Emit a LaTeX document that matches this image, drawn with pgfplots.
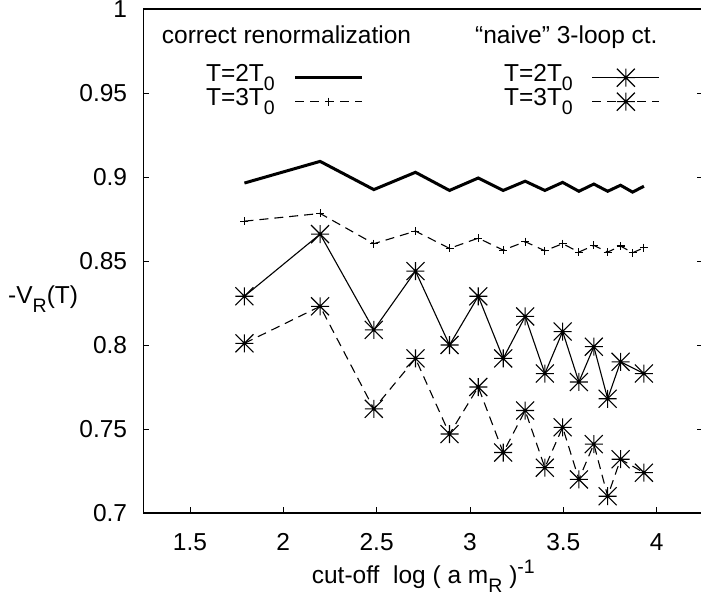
\documentclass[border=0pt]{standalone}
\usepackage{fontspec}
\setmainfont{Liberation Sans}
\usepackage{pgfplots}
\pgfplotsset{compat=1.18}
\usetikzlibrary{calc}
\newcommand{\sub}[1]{\raisebox{-0.36em}{\fontsize{19.5}{19.5}\selectfont #1}}
\newcommand{\super}[1]{\raisebox{0.42em}{\fontsize{19.5}{19.5}\selectfont #1}}
\pgfdeclareplotmark{gstar}{%
  \pgfpathmoveto{\pgfqpoint{-\pgfplotmarksize}{0pt}}\pgfpathlineto{\pgfqpoint{\pgfplotmarksize}{0pt}}%
  \pgfpathmoveto{\pgfqpoint{0pt}{-\pgfplotmarksize}}\pgfpathlineto{\pgfqpoint{0pt}{\pgfplotmarksize}}%
  \pgfpathmoveto{\pgfqpoint{-\pgfplotmarksize}{-\pgfplotmarksize}}\pgfpathlineto{\pgfqpoint{\pgfplotmarksize}{\pgfplotmarksize}}%
  \pgfpathmoveto{\pgfqpoint{-\pgfplotmarksize}{\pgfplotmarksize}}\pgfpathlineto{\pgfqpoint{\pgfplotmarksize}{-\pgfplotmarksize}}%
  \pgfusepathqstroke}
\begin{document}
\fontsize{24.5}{28}\selectfont
\begin{tikzpicture}
\begin{axis}[
  scale only axis, width=560pt, height=504pt,
  xmin=1.25, xmax=4.25, ymin=0.7, ymax=1,
  clip=false,
  xtick={1.5,2,2.5,3,3.5,4},
  ytick={0.7,0.75,0.8,0.85,0.9,0.95,1},
  minor tick num=0,
  xtick pos=left, ytick pos=both,
  major tick length=6pt,
  tick style={line width=0.8pt, black},
  axis line style={line width=1.3pt},
  every tick label/.append style={inner sep=0pt, font=\fontsize{24.5}{28}\selectfont},
  xticklabel style={yshift=-20pt},
  yticklabel style={xshift=-16pt},
  /pgf/number format/assume math mode=true,
  xlabel={cut-off\ \ log ( a m\sub{R} )\super{-1}},
  xlabel style={at={(axis description cs:0.5,-0.1400)}, anchor=base, inner sep=0pt},
  ylabel={-V\sub{R}(T)},
  ylabel style={rotate=-90, at={(axis description cs:-0.2416,0.4147)}, anchor=base west, inner sep=0pt},
  legend plot pos=right,
  legend columns=2,
  legend style={at={(axis cs:4.0176,0.9645)}, anchor=north east, draw=none, fill=none,
    inner sep=0pt, outer sep=0pt, column sep=19pt, row sep=1pt,
    font=\fontsize{24.5}{28}\selectfont,
    nodes={inner sep=0pt, text width=190pt, align=right, text height=10pt, text depth=10pt, anchor=east}},
  legend image code/.code={\draw[mark repeat=2,mark phase=2,#1] plot coordinates {(0pt,4pt) (33.5pt,4pt) (67pt,4pt)};},
]
% correct renormalization, T=2T0
\addplot[black, line width=3pt, no marks] coordinates {
(1.7918,0.8964) (2.1972,0.9093) (2.4849,0.8925) (2.7081,0.9028) (2.8904,0.8920)
(3.0445,0.8994) (3.1781,0.8920) (3.2958,0.8975) (3.4012,0.8920) (3.4965,0.8968)
(3.5835,0.8915) (3.6636,0.8958) (3.7377,0.8915) (3.8067,0.8951) (3.8712,0.8910) (3.9318,0.8945)};
\addlegendentry{T=2T\sub{0}}
% naive, T=2T0
\addplot[black, line width=1.1pt, mark=gstar, mark size=9pt, mark options={solid, line width=1.1pt}] coordinates {
(1.7918,0.829) (2.1972,0.866) (2.4849,0.809) (2.7081,0.844) (2.8904,0.800)
(3.0445,0.829) (3.1781,0.792) (3.2958,0.817) (3.4012,0.783) (3.4965,0.808)
(3.5835,0.778) (3.6636,0.799) (3.7377,0.768) (3.8067,0.790) (3.9318,0.783)};
\addlegendentry{T=2T\sub{0}}
% correct renormalization, T=3T0
\addplot[black, line width=1.1pt, dash pattern=on 9pt off 6pt, mark=+, mark size=4pt, mark options={solid, line width=1.1pt}] coordinates {
(1.7918,0.8737) (2.1972,0.8783) (2.4849,0.8603) (2.7081,0.8678) (2.8904,0.8575)
(3.0445,0.8636) (3.1781,0.8565) (3.2958,0.8615) (3.4012,0.8561) (3.4965,0.8603)
(3.5835,0.8553) (3.6636,0.8593) (3.7377,0.8553) (3.8067,0.8589) (3.8712,0.8549) (3.9318,0.8579)};
\addlegendentry{T=3T\sub{0}}
% naive, T=3T0
\addplot[black, line width=1.1pt, dash pattern=on 9pt off 6pt, mark=gstar, mark size=9pt, mark options={solid, line width=1.1pt}] coordinates {
(1.7918,0.801) (2.1972,0.823) (2.4849,0.762) (2.7081,0.792) (2.8904,0.747)
(3.0445,0.775) (3.1781,0.736) (3.2958,0.761) (3.4012,0.727) (3.4965,0.751)
(3.5835,0.720) (3.6636,0.741) (3.7377,0.710) (3.8067,0.732) (3.9318,0.724)};
\addlegendentry{T=3T\sub{0}}
\node[anchor=base west, inner sep=0pt] at (axis cs:1.3486,0.97976) {correct renormalization};
\node[anchor=base west, inner sep=0pt] at (axis cs:3.0266,0.97976) {“naive” 3-loop ct.};
\end{axis}
\pgfresetboundingbox
\path[use as bounding box] ($(current axis.south west)+(-143.3pt,-84pt)$) rectangle ($(current axis.north east)+(-2.3pt,9pt)$);
\end{tikzpicture}
\end{document}
